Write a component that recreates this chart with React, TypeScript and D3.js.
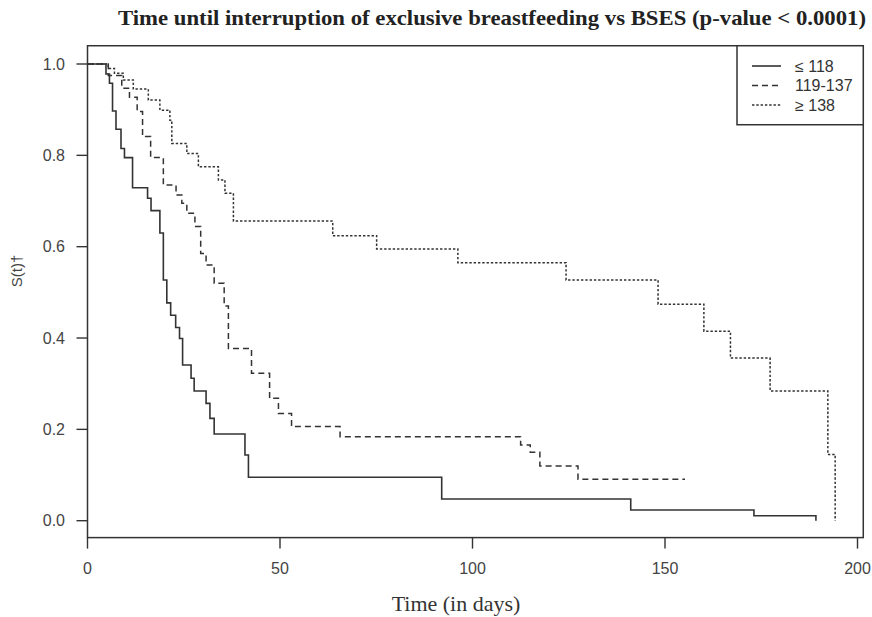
import React from "react";
import * as d3 from "d3";

const TITLE = "Time until interruption of exclusive breastfeeding vs BSES (p-value < 0.0001)";
const X_LABEL = "Time (in days)";
const Y_LABEL = "S(t)†";
const X_TICKS = [0, 50, 100, 150, 200];
const Y_TICKS = [0, 0.2, 0.4, 0.6, 0.8, 1.0];
const LEGEND = ["≤ 118", "119-137", "≥ 138"];

const lowTimes = [0, 4.8, 5.7, 6.5, 7.4, 8.7, 9.6, 11.7, 15.6, 16.5, 18.8, 19.7, 20.6, 21.6, 22.9, 23.9, 24.7, 26.9, 27.7, 30.8, 31.8, 32.9, 40.9, 41.8, 92.0, 141.1, 173.1, 189.2];
const lowSurv = [1, 0.978, 0.958, 0.897, 0.857, 0.815, 0.795, 0.729, 0.706, 0.679, 0.63, 0.527, 0.477, 0.45, 0.423, 0.399, 0.341, 0.312, 0.284, 0.257, 0.224, 0.19, 0.144, 0.095, 0.0475, 0.0234, 0.011, 0];

const midTimes = [0, 5.4, 8.9, 10.9, 12.9, 14.3, 16.4, 19.7, 23.0, 24.5, 25.8, 27.9, 29.4, 30.8, 32.9, 35.5, 36.6, 42.6, 47.3, 49.6, 53.0, 65.6, 112.5, 115.0, 117.5, 127.4, 155.2];
const midSurv = [1, 0.975, 0.947, 0.927, 0.896, 0.841, 0.795, 0.735, 0.713, 0.695, 0.673, 0.644, 0.585, 0.56, 0.52, 0.47, 0.377, 0.323, 0.268, 0.235, 0.206, 0.184, 0.166, 0.15, 0.12, 0.091, 0.091];

const highTimes = [0, 5.4, 7.0, 9.3, 11.9, 15.8, 18.8, 21.4, 21.9, 25.8, 28.8, 34.0, 35.7, 37.9, 63.7, 75.1, 96.2, 124.3, 148.2, 160.1, 167.0, 177.3, 192.3, 194.2];
const highSurv = [1, 0.99, 0.98, 0.965, 0.945, 0.921, 0.899, 0.877, 0.826, 0.804, 0.775, 0.746, 0.717, 0.656, 0.624, 0.595, 0.565, 0.527, 0.474, 0.415, 0.356, 0.284, 0.145, 0];

const X_LIM = [0, 201.5];
const Y_LIM = [-0.037, 1.04];

export default function App() {
  const x = d3.scaleLinear().domain([0, 200]).range([87.5, 857.5]);
  const y = d3.scaleLinear().domain([0, 1]).range([520.7, 64]);
  const line = d3
    .line<[number, number]>()
    .x((d) => x(d[0]))
    .y((d) => y(d[1]))
    .curve(d3.curveStepAfter);

  const series = [
    { t: lowTimes, s: lowSurv, dash: "none", w: 1.6 },
    { t: midTimes, s: midSurv, dash: "6,4", w: 1.5 },
    { t: highTimes, s: highSurv, dash: "2.4,1.9", w: 1.5 },
  ];

  const bx0 = x(X_LIM[0]);
  const bx1 = x(X_LIM[1]);
  const by0 = y(Y_LIM[1]);
  const by1 = y(Y_LIM[0]);
  const stroke = "#333";
  const tickFont = "'Liberation Sans', Arial, sans-serif";
  const serif = "'Liberation Serif', 'Times New Roman', serif";

  const legX = 737;
  const legY = by0;
  const legW = bx1 - legX;
  const legH = 79;

  return (
    <svg width={872} height={617} style={{ position: "absolute", left: 0, top: 0, background: "#fff" }}>
      <rect x={0} y={0} width={872} height={617} fill="#fff" />
      <text
        x={492}
        y={25}
        textAnchor="middle"
        fontFamily={serif}
        fontWeight="bold"
        fontSize={22}
        textLength={748}
        lengthAdjust="spacingAndGlyphs"
        fill="#222"
      >
        {TITLE}
      </text>
      {series.map((sr, i) => (
        <path
          key={i}
          d={line(sr.t.map((t, j) => [t, sr.s[j]] as [number, number])) || ""}
          fill="none"
          stroke={stroke}
          strokeWidth={sr.w}
          strokeDasharray={sr.dash}
        />
      ))}
      <rect x={bx0} y={by0} width={bx1 - bx0} height={by1 - by0} fill="none" stroke={stroke} strokeWidth={1.5} />
      {X_TICKS.map((t) => (
        <g key={t}>
          <line x1={x(t)} x2={x(t)} y1={by1} y2={by1 + 11} stroke={stroke} strokeWidth={1.4} />
          <text x={x(t)} y={574} textAnchor="middle" fontFamily={tickFont} fontSize={16} fill="#444">
            {t}
          </text>
        </g>
      ))}
      {Y_TICKS.map((t) => (
        <g key={t}>
          <line x1={bx0 - 11} x2={bx0} y1={y(t)} y2={y(t)} stroke={stroke} strokeWidth={1.4} />
          <text x={65} y={y(t) + 5.5} textAnchor="end" fontFamily={tickFont} fontSize={16} fill="#444">
            {t.toFixed(1)}
          </text>
        </g>
      ))}
      <text
        transform={`translate(22,271) rotate(-90)`}
        textAnchor="middle"
        fontFamily={tickFont}
        fontSize={15}
        fill="#444"
      >
        {Y_LABEL}
      </text>
      <text x={456} y={611} textAnchor="middle" fontFamily={serif} fontSize={22} fill="#333">
        {X_LABEL}
      </text>
      <rect x={legX} y={legY} width={legW} height={legH} fill="#fff" stroke={stroke} strokeWidth={1.5} />
      {LEGEND.map((lab, i) => {
        const ry = 66 + i * 19.5;
        return (
          <g key={lab}>
            <line
              x1={752}
              x2={781}
              y1={ry}
              y2={ry}
              stroke={stroke}
              strokeWidth={series[i].w}
              strokeDasharray={series[i].dash}
            />
            <text x={795} y={ry + 5.5} fontFamily={tickFont} fontSize={16} fill="#333">
              {lab}
            </text>
          </g>
        );
      })}
    </svg>
  );
}
